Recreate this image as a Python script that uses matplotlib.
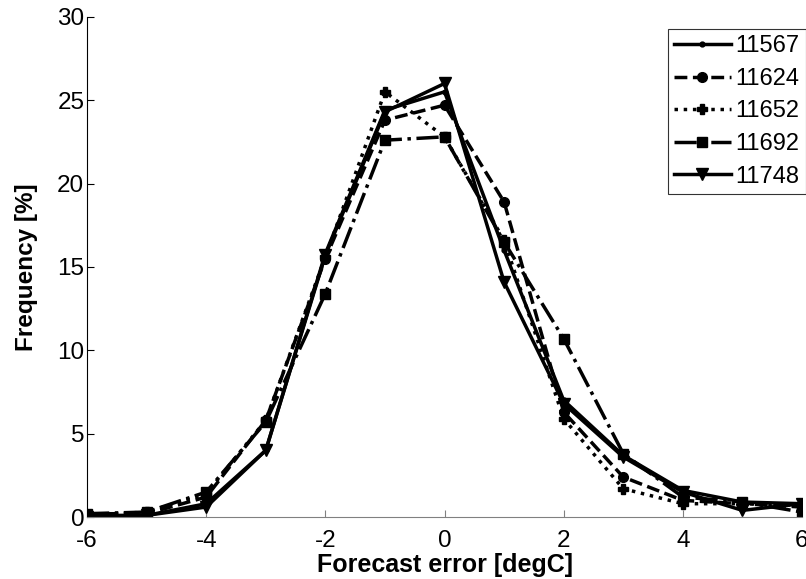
import matplotlib.pyplot as plt
import numpy as np

plt.rcParams["font.family"] = ["Liberation Sans", "DejaVu Sans"]
plt.rcParams["axes.unicode_minus"] = False

# Forecast error bins [degC]
errors = np.arange(-6, 7)

# Frequency [%] per station
f_11567 = [0.1, 0.1, 0.8, 4.0, 15.8, 24.4, 25.5, 16.0, 7.0, 3.7, 1.6, 0.9, 0.8]
f_11624 = [0.2, 0.2, 1.2, 5.8, 15.5, 23.8, 24.7, 18.9, 6.3, 2.4, 1.0, 0.8, 0.6]
f_11652 = [0.1, 0.3, 1.4, 5.8, 15.6, 25.5, 22.8, 16.6, 5.9, 1.7, 0.8, 0.8, 0.7]
f_11692 = [0.2, 0.3, 1.5, 5.7, 13.4, 22.6, 22.8, 16.5, 10.7, 3.8, 1.2, 0.9, 0.3]
f_11748 = [0.0, 0.1, 0.6, 4.0, 15.7, 24.3, 26.0, 14.1, 6.8, 3.6, 1.5, 0.4, 0.8]

stations = ["11567", "11624", "11652", "11692", "11748"]
series = [f_11567, f_11624, f_11652, f_11692, f_11748]
styles = [("-", "."), ("--", "o"), (":", "P"), ("-.", "s"), ("-", "v")]
msizes = [7, 7, 7, 7, 8]

fig = plt.figure(figsize=(8.06, 5.79), dpi=100)
ax = fig.add_axes([0.108, 0.107, 0.887, 0.864])

for name, vals, (ls, mk), ms in zip(stations, series, styles, msizes):
    ax.plot(errors, vals, linestyle=ls, marker=mk, color="black", lw=2.5,
            markersize=ms, label=name)

ax.set_xlim(-6, 6)
ax.set_ylim(0, 30)
ax.set_xticks(range(-6, 7, 2))
ax.set_yticks(range(0, 31, 5))
ax.tick_params(direction="in", length=5, labelsize=17.5, pad=2)
ax.tick_params(axis="x", colors="#808080", labelcolor="black", pad=9)
ax.spines["top"].set_visible(False)
ax.spines["right"].set_visible(False)
ax.spines["bottom"].set_color("#808080")

ax.set_xlabel("Forecast error [degC]", fontsize=18, fontweight="bold", labelpad=1)
ax.set_ylabel("Frequency [%]", fontsize=17.5, fontweight="bold", labelpad=14)

leg = ax.legend(loc="upper right", bbox_to_anchor=(1.005, 0.975), fontsize=17,
                frameon=True, fancybox=False, edgecolor="black",
                handlelength=2.4, handletextpad=0.2, labelspacing=0.45,
                borderpad=0.25, borderaxespad=0)
leg.get_frame().set_linewidth(0.8)

fig.savefig("out.png", dpi=100)
